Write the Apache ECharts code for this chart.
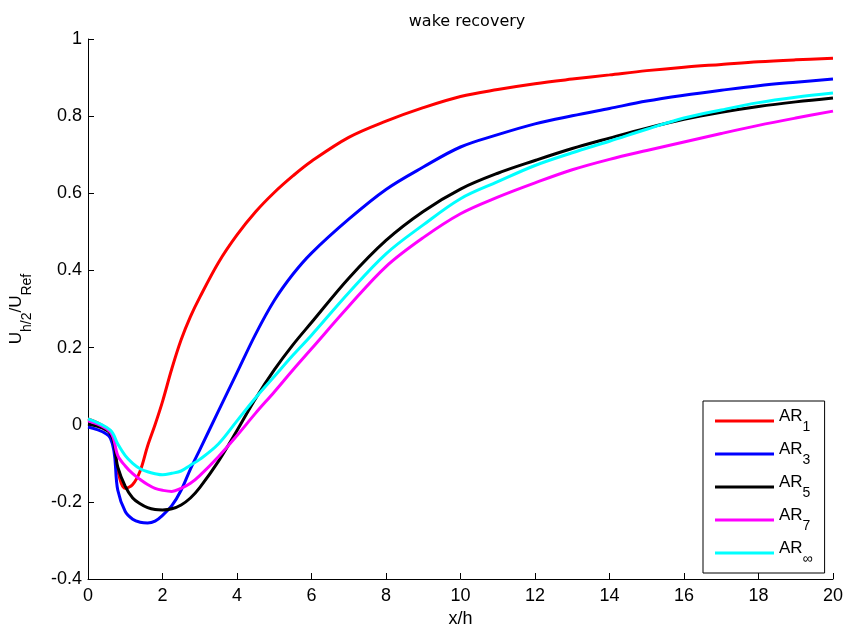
<!DOCTYPE html>
<html>
<head>
<meta charset="utf-8">
<title>wake recovery</title>
<script src="https://cdn.jsdelivr.net/npm/echarts@6/dist/echarts.min.js"></script>
<style>
  html, body { margin: 0; padding: 0; background: #fff; }
  #wake { width: 846px; height: 633px; }
</style>
</head>
<body>
<div id="wake"></div>
<script>
// x/h sample positions
var xValues = [0, 0.6, 0.8, 1, 1.2, 1.4, 1.6, 1.8, 2, 2.25, 2.5, 2.75, 3, 3.5, 4, 4.5, 5, 5.5, 6, 7, 8, 9, 10, 11, 12, 13, 14, 15, 16, 17, 18, 19, 20]

var ar1 = [0.015, -0.02, -0.12, -0.165, -0.155, -0.12, -0.055, 0.0, 0.06, 0.145, 0.22, 0.28, 0.33, 0.42, 0.492, 0.552, 0.602, 0.645, 0.683, 0.745, 0.787, 0.822, 0.851, 0.869, 0.884, 0.896, 0.907, 0.918, 0.927, 0.934, 0.941, 0.946, 0.95]
var ar3 = [-0.006, -0.035, -0.17, -0.225, -0.245, -0.253, -0.255, -0.25, -0.235, -0.21, -0.17, -0.115, -0.065, 0.035, 0.135, 0.235, 0.322, 0.39, 0.445, 0.533, 0.61, 0.668, 0.72, 0.752, 0.78, 0.801, 0.82, 0.839, 0.854, 0.867, 0.879, 0.888, 0.896]
var ar5 = [0.002, -0.023, -0.11, -0.16, -0.19, -0.205, -0.215, -0.22, -0.221, -0.218, -0.208, -0.19, -0.163, -0.095, -0.015, 0.068, 0.142, 0.207, 0.265, 0.38, 0.478, 0.553, 0.611, 0.652, 0.685, 0.716, 0.743, 0.769, 0.792, 0.81, 0.825, 0.837, 0.847]
var ar7 = [0.01, -0.019, -0.08, -0.107, -0.127, -0.142, -0.155, -0.165, -0.17, -0.173, -0.165, -0.152, -0.132, -0.083, -0.028, 0.03, 0.085, 0.142, 0.197, 0.307, 0.41, 0.485, 0.547, 0.59, 0.627, 0.661, 0.688, 0.711, 0.733, 0.755, 0.776, 0.795, 0.813]
var arInf = [0.015, -0.014, -0.05, -0.08, -0.1, -0.114, -0.122, -0.127, -0.13, -0.126, -0.12, -0.105, -0.09, -0.05, 0.01, 0.07, 0.125, 0.18, 0.232, 0.342, 0.443, 0.518, 0.586, 0.63, 0.672, 0.705, 0.735, 0.766, 0.795, 0.816, 0.835, 0.849, 0.86]

var seriesNames = ['AR1', 'AR3', 'AR5', 'AR7', 'ARinf']
var legendSubs = { AR1: '1', AR3: '3', AR5: '5', AR7: '7', ARinf: '∞' }
var seriesColors = ['#ff0000', '#0000ff', '#000000', '#ff00ff', '#00ffff']
var seriesValues = [ar1, ar3, ar5, ar7, arInf]

var font = '"Liberation Sans", Arial, Helvetica, sans-serif'

// U_x style text: main letters on top, subscripts pushed down a bit
var subRich = {
  a: { fontFamily: font, fontSize: 17, lineHeight: 26, verticalAlign: 'top', color: '#000' },
  s: { fontFamily: font, fontSize: 14, lineHeight: 14, verticalAlign: 'bottom', color: '#000' },
}

function pairs(ys) {
  return xValues.map(function (x, i) { return [x, ys[i]] })
}

var chart = echarts.init(document.getElementById('wake'))

var option = {
  backgroundColor: '#ffffff',
  animation: false,
  title: {
    text: 'wake recovery',
    left: 462,
    textAlign: 'center',
    top: 9,
    textStyle: { fontFamily: '"DejaVu Sans", sans-serif', fontSize: 16, fontWeight: 'normal', color: '#000' },
  },
  grid: { left: 88, right: 9, top: 39, bottom: 50, containLabel: false },
  legend: {
    orient: 'vertical',
    left: 703,
    top: 401,
    padding: [7, 12, 7, 12],
    itemGap: 7,
    itemWidth: 59,
    itemHeight: 3,
    icon: 'rect',
    borderColor: '#000',
    borderWidth: 1,
    backgroundColor: '#fff',
    data: seriesNames,
    formatter: function (name) {
      return '{a|AR}{s|' + legendSubs[name] + '}'
    },
    textStyle: { fontFamily: font, color: '#000', rich: subRich },
  },
  xAxis: {
    type: 'value',
    min: 0,
    max: 20,
    interval: 2,
    name: 'x/h',
    nameLocation: 'middle',
    nameGap: 31,
    nameTextStyle: { fontFamily: font, fontSize: 18, color: '#000' },
    axisLine: { onZero: false, lineStyle: { color: '#000', width: 1 } },
    axisTick: { inside: true, length: 6, lineStyle: { color: '#000' } },
    axisLabel: { margin: 8, fontFamily: font, fontSize: 18, color: '#000' },
    splitLine: { show: false },
  },
  yAxis: {
    type: 'value',
    min: -0.4,
    max: 1,
    interval: 0.2,
    name: '{a|U}{s|h/2}{a|/U}{s|Ref}',
    nameLocation: 'middle',
    nameRotate: 90,
    nameGap: 54,
    nameTextStyle: { fontFamily: font, color: '#000', rich: subRich },
    axisLine: { show: true, onZero: false, lineStyle: { color: '#000', width: 1 } },
    axisTick: { show: true, inside: true, length: 6, lineStyle: { color: '#000' } },
    axisLabel: {
      margin: 6,
      fontFamily: font,
      fontSize: 18,
      color: '#000',
      formatter: function (v) { return String(Math.round(v * 10) / 10) },
    },
    splitLine: { show: false },
  },
  series: seriesNames.map(function (name, i) {
    return {
      name: name,
      type: 'line',
      data: pairs(seriesValues[i]),
      smooth: 0.35,
      symbol: 'none',
      color: seriesColors[i],
      lineStyle: { color: seriesColors[i], width: 3 },
    }
  }),
}

chart.setOption(option)
</script>
</body>
</html>
